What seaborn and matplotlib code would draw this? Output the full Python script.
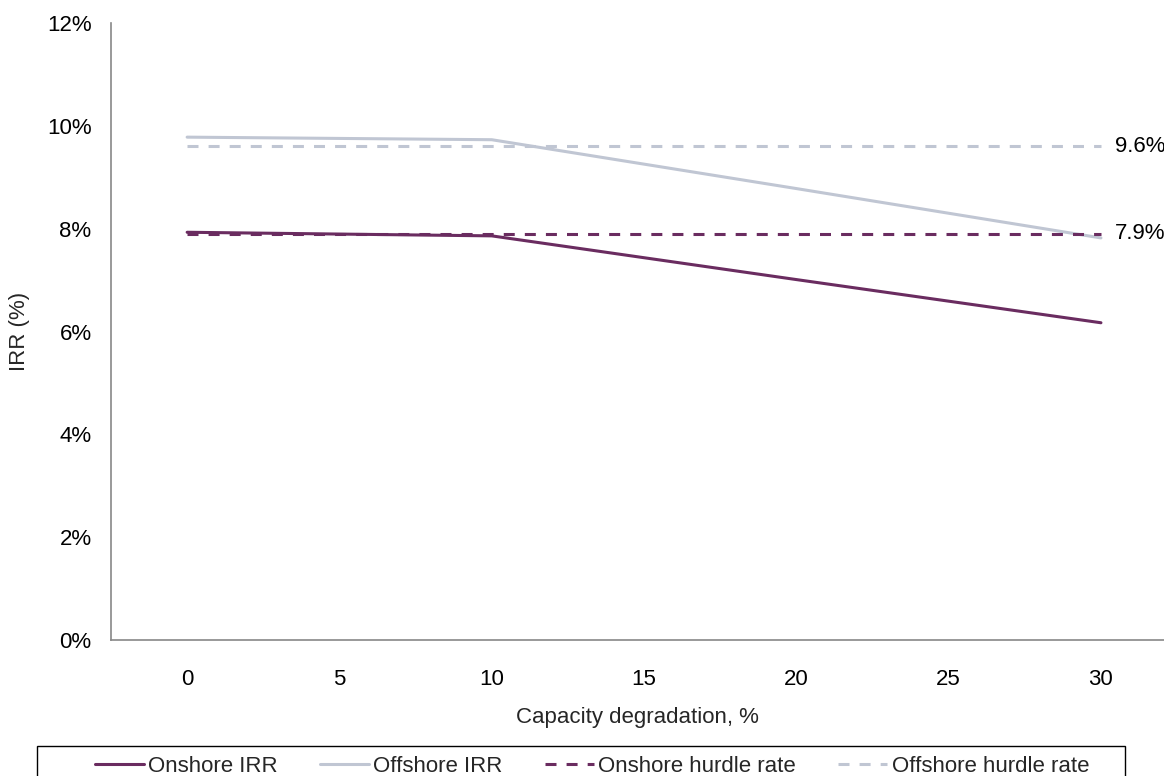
import matplotlib
matplotlib.use("Agg")
import matplotlib.pyplot as plt
import matplotlib.patches as mpatches
import seaborn as sns
import pandas as pd

degradation = [0, 10, 20, 30]
onshore_irr = [0.0793, 0.0786, 0.0701, 0.0617]
offshore_irr = [0.0978, 0.0973, 0.0878, 0.0782]
onshore_hurdle = [0.079, 0.079, 0.079, 0.079]
offshore_hurdle = [0.096, 0.096, 0.096, 0.096]
series_names = ["Onshore IRR", "Offshore IRR", "Onshore hurdle rate", "Offshore hurdle rate"]
end_labels = {"Offshore hurdle rate": "9.6%", "Onshore hurdle rate": "7.9%"}
x_ticks = [0, 5, 10, 15, 20, 25, 30]
y_ticks = [0, 0.02, 0.04, 0.06, 0.08, 0.10, 0.12]

rows = []
for name, vals in zip(series_names, [onshore_irr, offshore_irr, onshore_hurdle, offshore_hurdle]):
    for x, v in zip(degradation, vals):
        rows.append({"x": x, "value": v, "series": name})
df = pd.DataFrame(rows)

sns.set_style("white")
plt.rcParams["font.family"] = ["Liberation Sans", "DejaVu Sans"]

PURPLE = "#6a2c60"
GREY = "#c0c6d3"
palette = {"Onshore IRR": PURPLE, "Offshore IRR": GREY,
           "Onshore hurdle rate": PURPLE, "Offshore hurdle rate": GREY}
dashes = {"Onshore IRR": "", "Offshore IRR": "",
          "Onshore hurdle rate": (3.6, 3.3), "Offshore hurdle rate": (3.6, 3.3)}

fig = plt.figure(figsize=(11.64, 7.76), dpi=100)
ax = fig.add_axes([111/1164, 1-640/776, 1-111/1164, (640-23)/776])

sns.lineplot(data=df, x="x", y="value", hue="series", style="series",
             hue_order=series_names, style_order=series_names,
             palette=palette, dashes=dashes, linewidth=2.2, ax=ax, legend=False)

for name, txt in end_labels.items():
    yv = df[(df.series == name) & (df.x == degradation[-1])]["value"].iloc[0]
    ax.annotate(txt, xy=(degradation[-1], yv), xytext=(10, 0), textcoords="offset points",
                va="center", ha="left", fontsize=16, color="black")

ax.set_xlim(-2.5, 32.07)
ax.set_ylim(0, 0.12)
ax.set_xticks(x_ticks)
ax.set_yticks(y_ticks)
ax.set_yticklabels([f"{int(round(t*100))}%" for t in y_ticks])
ax.tick_params(axis="both", length=0, labelsize=16, colors="black")
ax.tick_params(axis="x", pad=21)
ax.tick_params(axis="y", pad=14)
ax.set_xlabel("Capacity degradation, %", fontsize=16, labelpad=12)
ax.set_ylabel("IRR (%)", fontsize=16, labelpad=12)

for s in ["top", "right"]:
    ax.spines[s].set_visible(False)
for s in ["left", "bottom"]:
    ax.spines[s].set_color("#888888")
    ax.spines[s].set_linewidth(1.2)

# legend frame (box) drawn separately
frame = mpatches.Rectangle((37/1164, -0.05), (1125-37)/1164, 0.05 + 1 - 746/776,
                           transform=fig.transFigure, fill=False,
                           edgecolor="black", linewidth=1.0)
fig.add_artist(frame)

handles = ax.get_lines()[:4]
leg = fig.legend(handles, series_names, loc="center",
                 bbox_to_anchor=(592/1164, 1-766/776),
                 ncol=4, fontsize=16, frameon=False,
                 handlelength=2.2, handletextpad=0.2, columnspacing=1.9,
                 borderpad=0, borderaxespad=0)

fig.savefig("out.png", dpi=100)
